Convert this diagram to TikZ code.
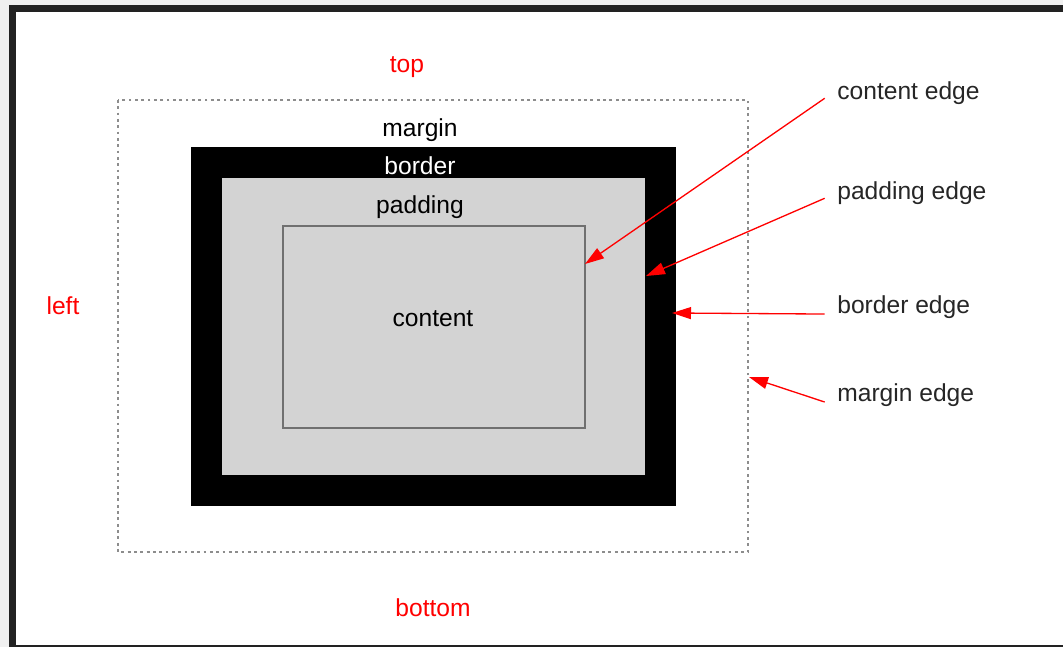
\documentclass[tikz,border=0pt]{standalone}
\usepackage{fontspec}
\setmainfont{Liberation Sans}
\usetikzlibrary{arrows.meta,positioning}
\definecolor{boxpad}{HTML}{D3D3D3}
\definecolor{boxline}{HTML}{707070}
\definecolor{framedark}{HTML}{222222}
\definecolor{frameedge}{HTML}{F0F0F0}

\begin{document}
\begin{tikzpicture}[x=0.02cm, y=-0.02cm,
  lbl/.style={font=\fontsize{14}{16}\selectfont, inner sep=0pt},
  side/.style={lbl, text=red},
  edgelbl/.style={lbl, anchor=west, text=black!85},
  ptr/.style={-{Triangle[length=3.8mm, width=2.4mm]}, red, line width=0.75pt}]
  \useasboundingbox (0,0) rectangle (1063,647);
  % window frame
  \fill[frameedge] (0,0) rectangle (1063,5);
  \fill[frameedge] (0,0) rectangle (9,647);
  \fill[framedark] (9,5) rectangle (1063,12);
  \fill[framedark] (9,5) rectangle (16,647);
  \fill[framedark] (9,645) rectangle (1063,647);
  % the nested boxes
  \draw[boxline!80, line width=0.6pt, dash pattern=on 1.6pt off 2pt] (118,100) rectangle (748,552);
  \fill[black] (191,147) rectangle (676,506);
  \fill[boxpad] (222,178) rectangle (645,475);
  \draw[boxline, fill=boxpad, line width=0.7pt] (283,226) rectangle (585,428);
  \node[lbl] (marginlbl) at (420,130) {margin};
  \node[lbl, text=white] (borderlbl) at (420,166) {border};
  \node[lbl] (paddinglbl) at (420,207) {padding};
  \node[lbl] (contentlbl) at (433,319) {content};
  % sides
  \node[side] (top) at (407,67) {top};
  \node[side] (left) at (63,306) {left};
  \node[side] (bottom) at (433,608) {bottom};
  % edge callouts
  \node[edgelbl] (cedge) at (837,93) {content edge};
  \node[edgelbl] (pedge) at (837,193) {padding edge};
  \node[edgelbl] (bedge) at (837,307) {border edge};
  \node[edgelbl] (medge) at (837,395) {margin edge};
  \coordinate (cpt) at (585,264);
  \coordinate (ppt) at (646,276);
  \coordinate (bpt) at (672,313);
  \coordinate (mpt) at (749,377);
  \draw[ptr] ([xshift=-7pt, yshift=-3pt]cedge.west) -- (cpt);
  \draw[ptr] ([xshift=-7pt, yshift=-3pt]pedge.west) -- (ppt);
  \draw[ptr] ([xshift=-7pt, yshift=-4pt]bedge.west) -- (bpt);
  \draw[ptr] ([xshift=-7pt, yshift=-4pt]medge.west) -- (mpt);
\end{tikzpicture}
\end{document}
